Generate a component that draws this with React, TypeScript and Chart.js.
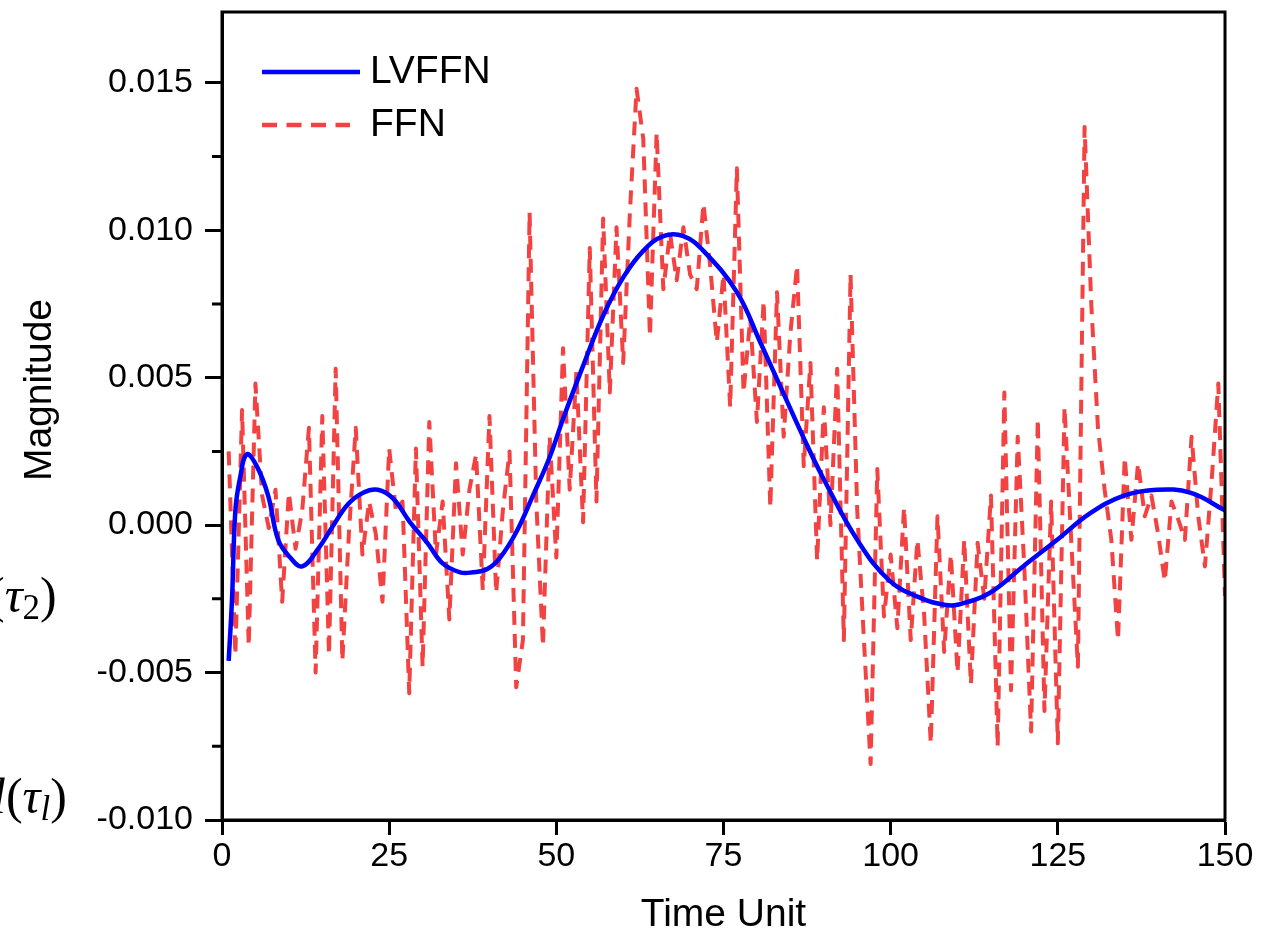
import React, { useEffect, useRef } from "react";
import { Chart, registerables } from "chart.js";

Chart.register(...registerables);

const FONT = "'Liberation Sans', Arial, Helvetica, sans-serif";

// Time steps of the FFN series
const timeSteps = [
  1, 2, 3, 4, 5, 6, 7, 8, 9, 10, 11, 12, 13, 14, 15, 16, 17, 18, 19, 20,
  21, 22, 23, 24, 25, 26, 27, 28, 29, 30, 31, 32, 33, 34, 35, 36, 37, 38, 39, 40,
  41, 42, 43, 44, 45, 46, 47, 48, 49, 50, 51, 52, 53, 54, 55, 56, 57, 58, 59, 60,
  61, 62, 63, 64, 65, 66, 67, 68, 69, 70, 71, 72, 73, 74, 75, 76, 77, 78, 79, 80,
  81, 82, 83, 84, 85, 86, 87, 88, 89, 90, 91, 92, 93, 94, 95, 96, 97, 98, 99, 100,
  101, 102, 103, 104, 105, 106, 107, 108, 109, 110, 111, 112, 113, 114, 115, 116, 117, 118, 119, 120,
  121, 122, 123, 124, 125, 126, 127, 128, 129, 130, 131, 132, 133, 134, 135, 136, 137, 138, 139, 140,
  141, 142, 143, 144, 145, 146, 147, 148, 149, 150,
];

// FFN (red dashed) magnitudes, one per time step
const ffnValues = [
  0.0025, -0.0044, 0.0039, -0.0041, 0.0048, 0.0010, -0.0001, 0.0012, -0.0026, 0.0011,
  -0.0008, 0.0005, 0.0033, -0.0050, 0.0037, -0.0044, 0.0053, -0.0046, -0.0002, 0.0033,
  -0.0010, 0.0008, -0.0003, -0.0026, 0.0026, 0.0005, 0.0008, -0.0057, 0.0026, -0.0048,
  0.0035, -0.0010, 0.0008, -0.0032, 0.0021, -0.0010, 0.0012, 0.0024, -0.0022, 0.0037,
  -0.0023, 0.0005, 0.0025, -0.0055, -0.0039, 0.0106, 0.0008, -0.0041, 0.0030, -0.0011,
  0.0060, 0.0012, 0.0052, 0.0001, 0.0094, 0.0008, 0.0104, 0.0045, 0.0101, 0.0055,
  0.0106, 0.0148, 0.0131, 0.0064, 0.0133, 0.0080, 0.0099, 0.0083, 0.0101, 0.0085,
  0.0080, 0.0109, 0.0088, 0.0062, 0.0085, 0.0040, 0.0121, 0.0045, 0.0070, 0.0035,
  0.0076, 0.0006, 0.0079, 0.0030, 0.0065, 0.0088, 0.0020, 0.0055, -0.0012, 0.0040,
  0.0000, 0.0053, -0.0039, 0.0085, 0.0005, -0.0039, -0.0081, 0.0019, -0.0031, -0.0010,
  -0.0035, 0.0006, -0.0039, -0.0005, -0.0030, -0.0074, 0.0003, -0.0043, -0.0010, -0.0050,
  -0.0005, -0.0054, -0.0006, -0.0025, 0.0010, -0.0075, 0.0045, -0.0056, 0.0030, -0.0015,
  -0.0070, 0.0036, -0.0063, 0.0008, -0.0074, 0.0040, -0.0005, -0.0048, 0.0135, 0.0075,
  0.0033, 0.0012, -0.0005, -0.0039, 0.0023, -0.0005, 0.0021, 0.0003, 0.0010, -0.0003,
  -0.0019, 0.0008, 0.0002, -0.0005, 0.0030, 0.0003, -0.0014, 0.0015, 0.0048, -0.0024,
];

// LVFFN (blue solid) curve, read at these time positions
const lvTimes = [
  1, 1.5, 2, 2.7, 3.7, 5.2, 6.9, 8.4, 10.2, 12, 14.4, 16.4, 18.8, 21.1, 23.3, 25.6,
  28.1, 30.7, 33, 35.6, 37.5, 39.6, 41.6, 44.1, 46.5, 49, 51, 54, 57, 60, 63, 66,
  69, 72, 77, 80.5, 83.9, 86.9, 89.9, 95, 99.9, 104.8, 108, 110, 114.8, 119.8,
  124.9, 129.8, 134.9, 139.8, 144.8, 150,
];
const lvValues = [
  -0.0046, -0.0025, 0.0005, 0.0016, 0.0024, 0.0020, 0.0010, -0.0005, -0.0011, -0.0014,
  -0.0008, -0.0001, 0.0007, 0.0011, 0.0012, 0.0009, 0.0001, -0.0006, -0.0013, -0.0016,
  -0.0016, -0.0015, -0.0011, -0.0002, 0.0010, 0.0023, 0.0036, 0.0054, 0.0071, 0.0084,
  0.0093, 0.0098, 0.0098, 0.0093, 0.0079, 0.0062, 0.0045, 0.0030, 0.0016, -0.0005,
  -0.0019, -0.0025, -0.0027, -0.0027, -0.0023, -0.0014, -0.0005, 0.0004, 0.0010, 0.0012,
  0.0011, 0.0005,
];

const xTicks = [0, 25, 50, 75, 100, 125, 150];
const yTicks = [-0.01, -0.005, 0, 0.005, 0.01, 0.015];
const yMinorTicks = [-0.0075, -0.0025, 0.0025, 0.0075, 0.0125];

const seriesNames = ["LVFFN", "FFN"];
const BLUE = "rgb(0,0,255)";
const RED = "rgb(242,66,66)";

const extrasPlugin = {
  id: "extras",
  afterDraw(chart: any) {
    const { ctx, chartArea: a, scales } = chart;
    const ys = scales.y;
    ctx.save();
    // frame
    ctx.strokeStyle = "#000";
    ctx.lineWidth = 3;
    ctx.strokeRect(a.left, a.top, a.right - a.left, a.bottom - a.top);
    // minor y ticks
    ctx.beginPath();
    for (const v of yMinorTicks) {
      const py = ys.getPixelForValue(v);
      ctx.moveTo(a.left - 10, py);
      ctx.lineTo(a.left, py);
    }
    ctx.stroke();
    // y title
    ctx.save();
    ctx.translate(40, 390);
    ctx.rotate(-Math.PI / 2);
    ctx.fillStyle = "#000";
    ctx.font = `39px ${FONT}`;
    ctx.textAlign = "center";
    ctx.textBaseline = "middle";
    ctx.fillText("Magnitude", 0, 0);
    ctx.restore();
    // legend
    const lx = a.left + 40;
    const entries = [
      { y: a.top + 60, color: BLUE, dash: [] as number[], len: 98, width: 4.5 },
      { y: a.top + 113, color: RED, dash: [15, 9.5], len: 88, width: 4.5 },
    ];
    entries.forEach((e, i) => {
      ctx.beginPath();
      ctx.setLineDash(e.dash);
      ctx.strokeStyle = e.color;
      ctx.lineWidth = e.width;
      ctx.moveTo(lx, e.y);
      ctx.lineTo(lx + e.len, e.y);
      ctx.stroke();
      ctx.setLineDash([]);
      ctx.fillStyle = "#000";
      ctx.font = `39px ${FONT}`;
      ctx.textAlign = "left";
      ctx.textBaseline = "middle";
      ctx.fillText(seriesNames[i], lx + 108, e.y);
    });
    ctx.restore();
  },
};

export default function App() {
  const canvasRef = useRef<HTMLCanvasElement | null>(null);

  useEffect(() => {
    if (!canvasRef.current) return;
    const chart = new Chart(canvasRef.current, {
      type: "line",
      data: {
        datasets: [
          {
            label: seriesNames[0],
            data: lvTimes.map((t, i) => ({ x: t, y: lvValues[i] })),
            borderColor: BLUE,
            borderWidth: 4.5,
            pointRadius: 0,
            tension: 0.4,
            fill: false,
          },
          {
            label: seriesNames[1],
            data: timeSteps.map((t, i) => ({ x: t, y: ffnValues[i] })),
            borderColor: RED,
            borderWidth: 4,
            borderDash: [14, 9],
            borderJoinStyle: "round",
            pointRadius: 0,
            tension: 0,
            fill: false,
          },
        ],
      },
      options: {
        responsive: false,
        animation: false,
        events: [],
        layout: { padding: { left: 0, top: 12, right: 46, bottom: 0 } },
        plugins: {
          legend: { display: false },
          tooltip: { enabled: false },
        },
        scales: {
          x: {
            type: "linear",
            min: 0,
            max: 150,
            afterBuildTicks: (s: any) => {
              s.ticks = xTicks.map((v) => ({ value: v }));
            },
            afterFit: (s: any) => {
              s.height = 119;
              s.paddingLeft = 0;
              s.paddingRight = 0;
            },
            ticks: {
              autoSkip: false,
              maxRotation: 0,
              padding: 1,
              color: "#000",
              font: { family: FONT, size: 34 },
              callback: (v: any) => String(v),
            },
            grid: {
              drawOnChartArea: false,
              drawTicks: true,
              tickLength: 15,
              tickWidth: 3,
              tickColor: "#000",
            },
            border: { display: true, color: "#000", width: 3 },
            title: {
              display: true,
              text: "Time Unit",
              color: "#000",
              font: { family: FONT, size: 39 },
              padding: { top: 0, bottom: 0 },
            },
          },
          y: {
            type: "linear",
            min: -0.01,
            max: 0.0174,
            afterBuildTicks: (s: any) => {
              s.ticks = yTicks.map((v) => ({ value: v }));
            },
            afterFit: (s: any) => {
              s.width = 222;
              s.paddingTop = 0;
              s.paddingBottom = 0;
            },
            ticks: {
              padding: 12,
              color: "#000",
              font: { family: FONT, size: 34 },
              callback: (v: any) => Number(v).toFixed(3),
            },
            grid: {
              drawOnChartArea: false,
              drawTicks: true,
              tickLength: 17,
              tickWidth: 3,
              tickColor: "#000",
            },
            border: { display: true, color: "#000", width: 3 },
            title: { display: false },
          },
        },
      },
      plugins: [extrasPlugin],
    } as any);
    return () => chart.destroy();
  }, []);

  const mathFont = "'Liberation Serif', 'DejaVu Serif', serif";
  return (
    <div
      style={{
        position: "absolute",
        left: 0,
        top: 0,
        width: 1271,
        height: 939,
        overflow: "hidden",
        background: "#fff",
      }}
    >
      <canvas
        ref={canvasRef}
        width={1271}
        height={939}
        style={{ display: "block", position: "absolute", left: 0, top: 0 }}
      />
      <div
        style={{
          position: "absolute",
          left: -12,
          top: 570,
          fontFamily: mathFont,
          fontSize: 50,
          lineHeight: 1,
          whiteSpace: "nowrap",
          color: "#000",
        }}
      >
        <span>(</span>
        <span style={{ fontStyle: "italic" }}>τ</span>
        <sub style={{ fontSize: "0.7em", verticalAlign: "-0.2em" }}>2</sub>
        <span>)</span>
      </div>
      <div
        style={{
          position: "absolute",
          left: -8,
          top: 771,
          fontFamily: mathFont,
          fontSize: 50,
          lineHeight: 1,
          whiteSpace: "nowrap",
          color: "#000",
        }}
      >
        <span style={{ fontStyle: "italic" }}>l</span>
        <span>(</span>
        <span style={{ fontStyle: "italic" }}>τ</span>
        <sub style={{ fontSize: "0.7em", fontStyle: "italic", verticalAlign: "-0.2em" }}>l</sub>
        <span>)</span>
      </div>
    </div>
  );
}
